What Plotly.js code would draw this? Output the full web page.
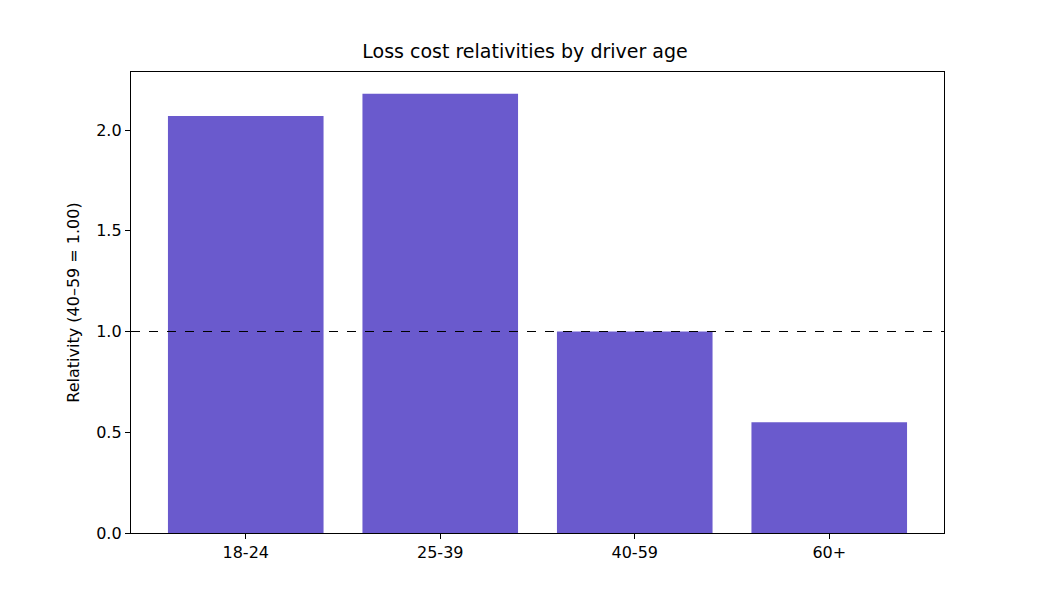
<!DOCTYPE html>
<html>
<head>
<meta charset="utf-8">
<script src="https://cdn.plot.ly/plotly-3.0.1.min.js"></script>
<style>body{margin:0}#chart{width:1050px;height:600px}</style>
</head>
<body>
<div id="chart"></div>
<script>
const ageGroups = ["18-24", "25-39", "40-59", "60+"];
const relativities = [2.07, 2.18, 1.00, 0.55];
const baseLevel = 1.0;

const trace = {
  type: "bar",
  x: [0, 1, 2, 3],
  y: relativities,
  width: 0.8,
  marker: {color: "#6a5acd"},
  hoverinfo: "y"
};

const layout = {
  width: 1050, height: 600,
  margin: {l: 131, r: 106, t: 72, b: 67},
  paper_bgcolor: "white", plot_bgcolor: "white",
  font: {family: "DejaVu Sans", size: 16, color: "black"},
  title: {text: "Loss cost relativities by driver age", font: {size: 19}, x: 0.5, xanchor: "center", y: 0.915, yanchor: "middle"},
  showlegend: false,
  xaxis: {
    range: [-0.59, 3.59], tickvals: [0, 1, 2, 3], ticktext: ageGroups,
    showgrid: false, zeroline: false, showline: true, mirror: true, linecolor: "black", linewidth: 1.2,
    ticks: "outside", ticklen: 5, tickcolor: "black"
  },
  yaxis: {
    range: [0, 2.288], tickvals: [0, 0.5, 1, 1.5, 2], ticktext: ["0.0", "0.5", "1.0", "1.5", "2.0"],
    showgrid: false, zeroline: false, showline: true, mirror: true, linecolor: "black", linewidth: 1.2,
    ticks: "outside", ticklen: 5, tickcolor: "black",
    title: {text: "Relativity (40–59 = 1.00)", font: {size: 16}, standoff: 12}
  },
  shapes: [{
    type: "line", xref: "paper", x0: 0, x1: 1, yref: "y", y0: baseLevel, y1: baseLevel,
    line: {color: "black", width: 1.2, dash: "dash"}
  }]
};

Plotly.newPlot("chart", [trace], layout, {displayModeBar: false, staticPlot: true});
</script>
</body>
</html>
